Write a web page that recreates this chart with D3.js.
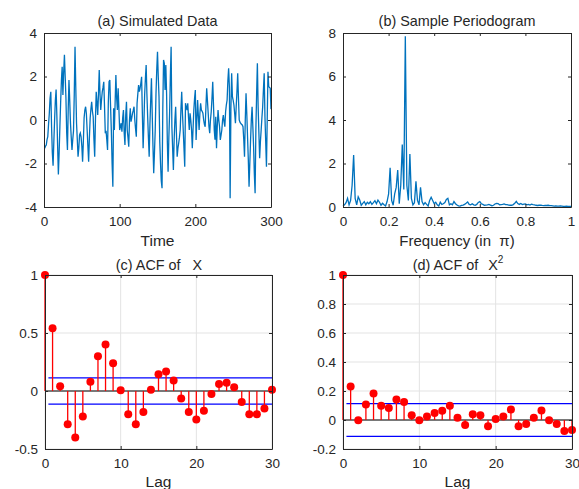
<!DOCTYPE html>
<html>
<head>
<meta charset="utf-8">
<script src="https://cdn.jsdelivr.net/npm/d3@7"></script>
<style>
  body { margin: 0; background: #fff; }
  text { font-family: "Liberation Sans", Arial, sans-serif; fill: #262626; }
</style>
</head>
<body>
<div id="chart"></div>
<script>
// Data

// (a) simulated series, t = 1..300
var series = [
  -1.3,-1.2,-1.15,-0.9,-0.77,-0.2,0.3,1.0,1.3,-0.3,-1.5,-2.1,-1.0,0.0,0.9,1.4,0.2,-1.2,-2.5,-1.5,
  -0.3,0.8,1.8,2.45,1.15,2.2,3.0,2.0,1.0,-0.6,-1.38,0.5,1.84,0.9,-0.15,-0.8,-1.38,-0.9,-0.5,1.2,
  3.37,1.5,-0.15,-0.9,-1.69,-1.3,-0.69,-0.6,-0.77,-1.2,-1.92,-1.0,0.1,0.46,0.61,0.3,-0.46,-1.2,-1.92,-0.8,
  0.08,0.5,0.84,0.4,0.15,-0.9,-1.69,0.0,1.3,0.8,0.23,1.2,2.3,1.2,0.46,0.92,1.3,1.5,1.76,0.61,
  -0.61,-0.5,-0.9,-1.38,0.8,1.76,1.84,0.6,-0.5,-2.0,-3.07,0.54,-0.46,0.8,2.07,1.0,0.46,1.46,0.5,-0.46,
  -0.3,-0.15,-0.54,0.1,0.46,-0.6,-1.15,0.2,0.84,-0.46,-0.8,-1.23,0.0,0.54,-0.08,0.1,0.31,0.45,0.61,0.0,
  -0.4,-0.77,0.77,1.2,1.61,1.3,1.46,1.7,1.99,0.3,-1.3,-0.2,1.15,1.9,2.53,1.2,0.15,-0.8,-1.69,-0.2,
  0.9,1.92,0.31,-1.2,-2.45,-1.5,-0.46,1.2,2.3,3.14,2.0,1.07,-1.0,-2.0,-2.8,-3.14,0.5,2.76,2.61,1.38,
  2.53,1.23,-1.0,-2.38,-0.8,0.31,2.0,3.37,-0.31,-1.3,-2.3,-0.92,0.0,0.61,-0.6,-1.69,-1.3,-1.07,-0.8,-0.46,
  0.5,1.3,0.3,-0.46,-1.3,-2.15,0.77,0.6,0.46,0.77,0.1,-0.46,0.31,0.0,-0.46,-1.3,-0.4,0.46,1.0,1.38,
  -0.92,0.0,0.92,0.2,-0.46,0.3,0.77,0.46,0.4,0.31,0.0,-0.2,-0.31,0.6,1.46,0.9,0.31,-0.3,-0.61,0.0,
  0.38,1.0,1.76,0.7,-0.46,-0.9,0.15,-1.3,-0.3,0.46,0.0,-0.31,-0.92,-0.7,-0.46,0.0,0.23,-0.1,-0.31,0.38,
  0.7,0.92,1.8,2.38,1.53,-3.6,0.5,2.15,1.07,0.9,0.69,0.3,-0.15,0.61,1.3,2.15,1.0,0.0,-0.1,-0.15,
  -0.2,-0.23,-0.31,-0.9,-1.69,0.0,1.23,0.3,-0.77,-1.8,-3.07,-2.0,-0.92,0.0,0.61,-0.3,-1.23,-2.5,-3.37,-0.46,
  1.2,2.61,0.61,-0.6,-1.76,-1.0,-0.46,0.1,0.61,1.4,2.15,0.15,-1.0,-2.15,0.0,2.22,1.53,1.5,1.46,0.5
];

// (b) periodogram, frequencies j/150 (in units of pi), j = 0..150
var periodogram = [
  0.05,0.1,0.2,0.4,0.1,0.3,1.0,2.39,0.4,0.1,0.47,0.32,0.08,0.17,0.25,0.1,0.22,0.15,0.24,0.12,
  0.2,0.29,0.15,0.32,0.22,0.08,0.17,0.1,0.05,0.25,0.6,1.8,0.3,0.08,0.6,0.9,1.7,0.15,1.0,2.87,
  0.8,7.85,1.0,0.3,2.44,0.4,0.1,0.2,1.18,0.3,0.1,0.9,0.25,0.1,0.2,0.12,0.05,0.3,0.45,0.3,
  0.15,0.22,0.1,0.05,0.22,0.12,0.15,0.2,0.35,0.4,0.1,0.15,0.1,0.25,0.15,0.09,0.05,0.04,0.07,0.09,
  0.12,0.17,0.23,0.12,0.1,0.15,0.1,0.08,0.12,0.21,0.25,0.15,0.12,0.08,0.09,0.1,0.12,0.09,0.06,0.08,
  0.14,0.17,0.16,0.1,0.11,0.12,0.14,0.11,0.11,0.09,0.08,0.08,0.11,0.17,0.26,0.16,0.12,0.16,0.11,0.13,
  0.14,0.1,0.12,0.09,0.13,0.11,0.1,0.08,0.07,0.08,0.09,0.07,0.06,0.07,0.07,0.08,0.06,0.06,0.05,0.04,
  0.05,0.04,0.04,0.05,0.04,0.03,0.03,0.04,0.03,0.03,0.03
];

// (c) ACF of X, lags 0..30
var acfX = [
  1, 0.54, 0.04, -0.286, -0.40, -0.22, 0.08, 0.30, 0.40, 0.24, 0.006,
  -0.20, -0.286, -0.18, 0.01, 0.145, 0.168, 0.09, -0.064, -0.18, -0.245,
  -0.17, -0.026, 0.06, 0.072, 0.032, -0.095, -0.20, -0.20, -0.15, 0.01
];

// (d) ACF of X^2, lags 0..30
var acfX2 = [
  1, 0.231, -0.002, 0.107, 0.183, 0.098, 0.082, 0.142, 0.124, 0.032, -0.002,
  0.025, 0.048, 0.064, 0.098, 0.016, -0.034, 0.039, 0.032, -0.043, 0.007,
  0.025, 0.073, -0.043, -0.027, 0.016, 0.066, -0.002, -0.027, -0.075, -0.069
];

var bound = 0.113;   // confidence band

var ticksA = [0, 100, 200, 300], ticksAY = [-4, -2, 0, 2, 4];
var ticksB = [0, 0.2, 0.4, 0.6, 0.8, 1], ticksBY = [0, 2, 4, 6, 8];
var ticksLag = [0, 10, 20, 30];
var ticksC = [-0.5, 0, 0.5, 1];
var ticksD = [-0.2, 0, 0.2, 0.4, 0.6, 0.8, 1];

var W = 579, H = 489;
var axisColor = '#262626';
var lineBlue = '#0072BD';

var svg = d3.select('#chart').append('svg')
  .attr('width', W)
  .attr('height', H);

// build one axes box with inward ticks on all four sides
function panel(o) {
  var x = d3.scaleLinear().domain(o.xd).range([o.l, o.r]);
  var y = d3.scaleLinear().domain(o.yd).range([o.b, o.t]);
  var g = svg.append('g');

  if (o.grid) {
    g.selectAll('.gx').data(o.xt).enter().append('line')
      .attr('x1', d => x(d)).attr('x2', d => x(d))
      .attr('y1', o.t).attr('y2', o.b)
      .attr('stroke', '#e3e3e3').attr('stroke-width', 1);
    g.selectAll('.gy').data(o.yt).enter().append('line')
      .attr('y1', d => y(d)).attr('y2', d => y(d))
      .attr('x1', o.l).attr('x2', o.r)
      .attr('stroke', '#e3e3e3').attr('stroke-width', 1);
  }

  var plot = g.append('g');

  var fmt = o.fmt || (d => String(d));
  var tk = 3;

  var ax = g.append('g').attr('transform', 'translate(0,' + o.b + ')')
    .call(d3.axisBottom(x).tickValues(o.xt).tickSize(-tk).tickSizeOuter(0).tickPadding(9).tickFormat(fmt));
  var axTop = g.append('g').attr('transform', 'translate(0,' + o.t + ')')
    .call(d3.axisTop(x).tickValues(o.xt).tickSize(-tk).tickSizeOuter(0).tickFormat(''));
  var ay = g.append('g').attr('transform', 'translate(' + o.l + ',0)')
    .call(d3.axisLeft(y).tickValues(o.yt).tickSize(-tk).tickSizeOuter(0).tickPadding(7).tickFormat(fmt));
  var ayR = g.append('g').attr('transform', 'translate(' + o.r + ',0)')
    .call(d3.axisRight(y).tickValues(o.yt).tickSize(-tk).tickSizeOuter(0).tickFormat(''));

  [ax, axTop, ay, ayR].forEach(a => {
    a.select('.domain').attr('stroke', axisColor);
    a.selectAll('.tick line').attr('stroke', axisColor);
    a.selectAll('.tick text').attr('fill', axisColor)
      .style('font-family', '"Liberation Sans", Arial, sans-serif')
      .style('font-size', '13.5px');
  });

  return { x: x, y: y, g: plot };
}

function title(txt, cx, y, size) {
  return svg.append('text')
    .attr('x', cx).attr('y', y)
    .attr('text-anchor', 'middle')
    .style('font-size', (size || 14.4) + 'px')
    .style('white-space', 'pre')
    .text(txt);
}

// (a) Simulated Data
var pa = panel({ l: 44, r: 271, t: 33, b: 207, xd: [0, 300], yd: [-4, 4], xt: ticksA, yt: ticksAY });
pa.g.append('path')
  .datum(series)
  .attr('fill', 'none')
  .attr('stroke', lineBlue)
  .attr('stroke-width', 1.3)
  .attr('d', d3.line().x((d, i) => pa.x(i + 1)).y(d => pa.y(d)));
title('(a) Simulated Data', 157.5, 26);
title('Time', 157.5, 246, 15.5);

// (b) Sample Periodogram
var pb = panel({ l: 343, r: 571, t: 33, b: 207, xd: [0, 1], yd: [0, 8], xt: ticksB, yt: ticksBY });
pb.g.append('path')
  .datum(periodogram)
  .attr('fill', 'none')
  .attr('stroke', lineBlue)
  .attr('stroke-width', 1.3)
  .attr('d', d3.line().x((d, i) => pb.x(i / (periodogram.length - 1))).y(d => pb.y(d)));
title('(b) Sample Periodogram', 457, 26);
title('Frequency (in  \u03c0)', 457, 246, 15);

// stem plot for ACF panels
function acfPanel(vals, o) {
  var p = panel(o);
  var lags = vals.map((d, i) => i);
  // baseline
  p.g.append('line')
    .attr('x1', p.x(0)).attr('x2', p.x(30))
    .attr('y1', p.y(0)).attr('y2', p.y(0))
    .attr('stroke', '#000').attr('stroke-width', 1);
  // bounds
  [bound, -bound].forEach(b => {
    p.g.append('line')
      .attr('x1', p.x(0.45)).attr('x2', p.x(30))
      .attr('y1', p.y(b)).attr('y2', p.y(b))
      .attr('stroke', '#0000ff').attr('stroke-width', 1.2);
  });
  p.g.selectAll('.stem').data(vals).enter().append('line')
    .attr('x1', (d, i) => p.x(lags[i])).attr('x2', (d, i) => p.x(lags[i]))
    .attr('y1', p.y(0)).attr('y2', d => p.y(d))
    .attr('stroke', '#ff0000').attr('stroke-width', 1.3);
  p.g.selectAll('.dot').data(vals).enter().append('circle')
    .attr('cx', (d, i) => p.x(lags[i]))
    .attr('cy', d => p.y(d))
    .attr('r', 4)
    .attr('fill', '#ff0000');
  return p;
}

acfPanel(acfX, { l: 45, r: 272, t: 275, b: 449, xd: [0, 30], yd: [-0.5, 1], xt: ticksLag, yt: ticksC, grid: true });
var tc = title('(c) ACF of', 159, 270);
tc.append('tspan').attr('dx', 12).text('X');
title('Lag', 158.5, 487, 15.5);

acfPanel(acfX2, { l: 343, r: 572, t: 275, b: 449, xd: [0, 30], yd: [-0.2, 1], xt: ticksLag, yt: ticksD, grid: true });
var td = title('(d) ACF of', 458, 270);
td.append('tspan').attr('dx', 10).text('X');
td.append('tspan').attr('dy', -7).style('font-size', '10px').text('2');
title('Lag', 457.5, 487, 15.5);
</script>
</body>
</html>
